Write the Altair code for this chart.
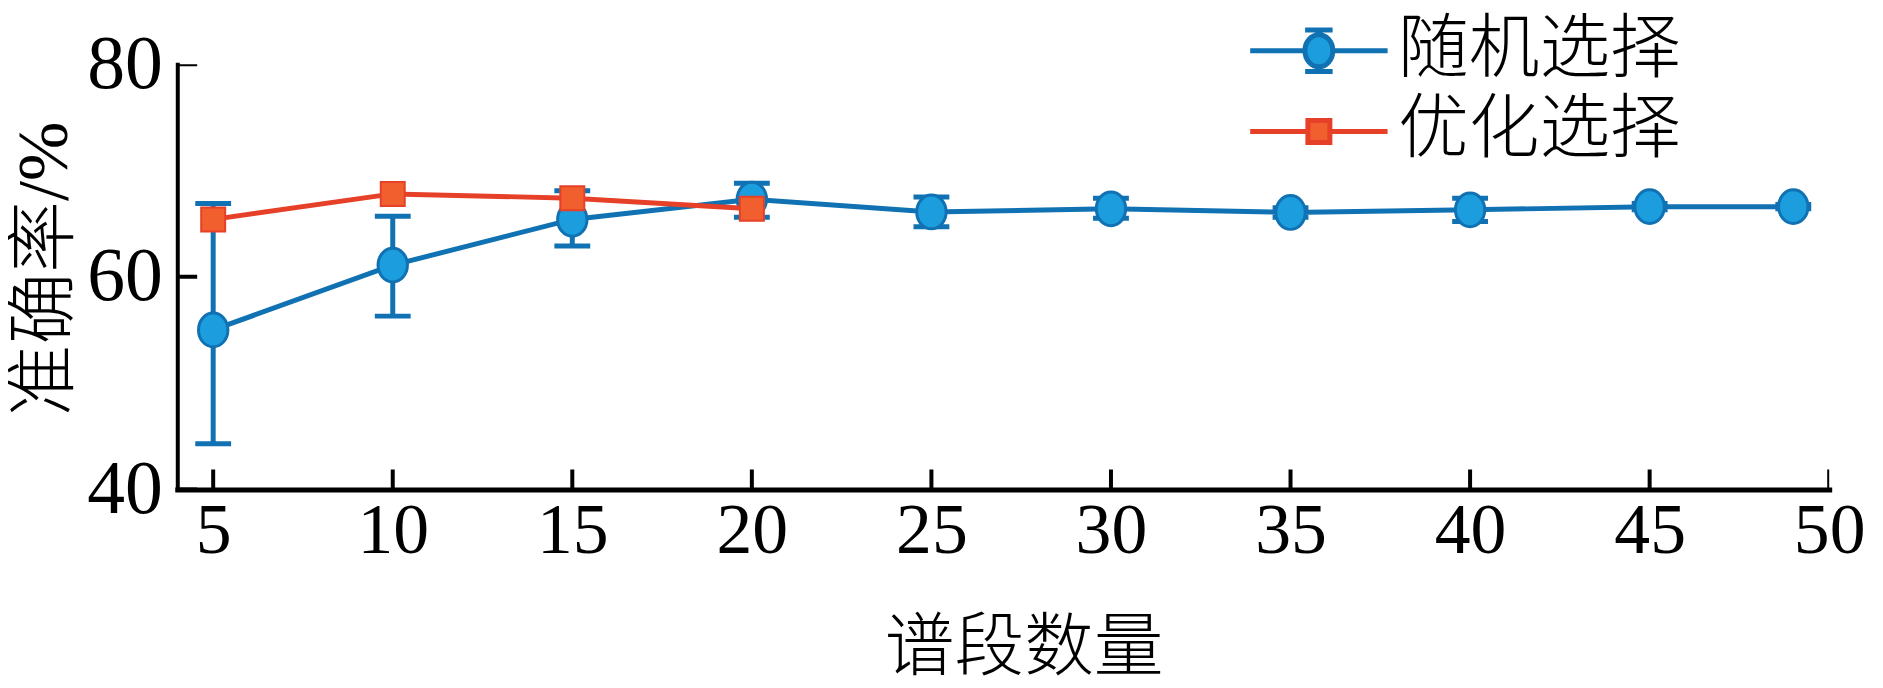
import altair as alt
import pandas as pd

# ---------------- data ----------------
series_names = ["随机选择", "优化选择"]

band_rand = [5, 10, 15, 20, 25, 30, 35, 40, 45, 49]
acc_rand = [55.0, 61.1, 65.4, 67.3, 66.1, 66.4, 66.05, 66.3, 66.6, 66.6]
acc_rand_lo = [44.3, 56.3, 62.9, 65.6, 64.7, 65.5, 65.6, 65.2, 66.3, 66.4]
acc_rand_hi = [66.9, 65.7, 68.1, 68.8, 67.5, 67.4, 66.5, 67.4, 66.9, 66.8]

band_opt = [5, 10, 15, 20]
acc_opt = [65.4, 67.8, 67.4, 66.4]

x_ticks = [5, 10, 15, 20, 25, 30, 35, 40, 45, 50]
y_ticks = [40, 60, 80]

# ---------------- styles ----------------
BLUE_LINE = "#1071b3"
BLUE_FILL = "#1c9ddd"
RED_LINE = "#e64028"
RED_FILL = "#f05f2d"
SERIF = "Liberation Serif"
CJK = "Noto Sans CJK SC"

df_r = pd.DataFrame({"band": band_rand, "acc": acc_rand,
                     "lo": acc_rand_lo, "hi": acc_rand_hi})
df_o = pd.DataFrame({"band": band_opt, "acc": acc_opt})
df_leg = pd.DataFrame({"series": series_names})
df_xt = pd.DataFrame({"band": x_ticks})
df_yt = pd.DataFrame({"acc": y_ticks})

xs = alt.Scale(domain=[4, 50], nice=False, zero=False)
ys = alt.Scale(domain=[40, 80], nice=False, zero=False)

x_axis = alt.Axis(values=x_ticks, ticks=False, grid=False, domainColor="black",
                  domainWidth=5, domainCap="square", labelFont=SERIF,
                  labelFontSize=72, labelColor="black", labelPadding=6,
                  labelFlush=False, labelOverlap=False, format="d",
                  title="谱段数量", titleFont=CJK, titleFontSize=70,
                  titleFontWeight=300, titleColor="black",
                  titleX=850, titleY=160, titleBaseline="middle",
                  titleAlign="center")
y_axis = alt.Axis(values=y_ticks, ticks=False, grid=False, domainColor="black",
                  domainWidth=4, domainCap="square", labelFont=SERIF,
                  labelFontSize=76, labelColor="black", labelPadding=15,
                  labelOverlap=False, format="d",
                  title="准确率/%", titleFont=f"{SERIF}, {CJK}",
                  titleFontSize=72, titleFontWeight=300, titleColor="black",
                  titleX=-133, titleY=205, titleAngle=270,
                  titleBaseline="middle", titleAlign="center")


def X(field="band"):
    return alt.X(f"{field}:Q", scale=xs, axis=x_axis, title="谱段数量")


def Y(field="acc"):
    return alt.Y(f"{field}:Q", scale=ys, axis=y_axis, title="准确率/%")


ellipse = "M-0.87,0A0.87,1 0 1,0 0.87,0A0.87,1 0 1,0 -0.87,0Z"

# legend symbols (unit = 23px)
leg_rand = ("M-3,0H-0.61M0.61,0H3"
            "M-0.61,0A0.61,0.7 0 1,0 0.61,0A0.61,0.7 0 1,0 -0.61,0Z"
            "M-0.6,-0.91H0.6M0,-0.91V-0.7M-0.6,0.91H0.6M0,0.91V0.7")
leg_opt = ("M-3,0H-0.48M0.48,0H3"
           "M-0.48,-0.48H0.48V0.48H-0.48Z")

line_r = alt.Chart(df_r).mark_line(color=BLUE_LINE, strokeWidth=5).encode(x=X(), y=Y())
stem_r = alt.Chart(df_r).mark_rule(color=BLUE_LINE, strokeWidth=5).encode(
    x=X(), y=Y("lo"), y2="hi:Q")
cap_lo = alt.Chart(df_r).mark_tick(orient="horizontal", size=36, thickness=5,
                                   color=BLUE_LINE, opacity=1).encode(
    x=X(), y=Y("lo"))
cap_hi = alt.Chart(df_r).mark_tick(orient="horizontal", size=36, thickness=5,
                                   color=BLUE_LINE, opacity=1).encode(
    x=X(), y=Y("hi"))
pts_r = alt.Chart(df_r).mark_point(shape=ellipse, size=1150, filled=True,
                                   fill=BLUE_FILL, stroke=BLUE_LINE,
                                   strokeWidth=3, opacity=1).encode(
    x=X(), y=Y())
line_o = alt.Chart(df_o).mark_line(color=RED_LINE, strokeWidth=5).encode(
    x=X(), y=Y())
pts_o = alt.Chart(df_o).mark_point(shape="square", size=580, filled=True,
                                   fill=RED_FILL, stroke=RED_LINE,
                                   strokeWidth=2, opacity=1).encode(
    x=X(), y=Y())

xt = alt.Chart(df_xt).mark_tick(orient="vertical", size=40, thickness=4,
                                color="black", opacity=1, clip=True).encode(
    x=X(), y=alt.value(427))
yt = alt.Chart(df_yt).mark_tick(orient="horizontal", size=40, thickness=4,
                                color="black", opacity=1, clip=True).encode(
    x=alt.value(0), y=Y())

leg = alt.Legend(title=None, orient="none", legendX=1111, legendY=-49,
                 labelFont=CJK, labelFontSize=71, labelFontWeight=300,
                 labelColor="black", labelOffset=44, symbolSize=2116,
                 symbolStrokeWidth=5, rowPadding=9, padding=0, labelLimit=0)
legend_layer = alt.Chart(df_leg).transform_filter("false").mark_point(
    filled=True, opacity=1).encode(
    shape=alt.Shape("series:N", scale=alt.Scale(domain=series_names,
                                                range=[leg_rand, leg_opt]),
                    legend=leg),
    fill=alt.Fill("series:N", scale=alt.Scale(domain=series_names,
                                              range=[BLUE_FILL, RED_FILL]),
                  legend=leg),
    stroke=alt.Stroke("series:N", scale=alt.Scale(domain=series_names,
                                                  range=[BLUE_LINE, RED_LINE]),
                      legend=leg),
)

chart = alt.layer(
    line_r, stem_r, cap_lo, cap_hi, pts_r, line_o, pts_o, xt, yt, legend_layer
).properties(
    width=1659, height=427,
    padding={"left": 170, "top": 55, "right": 46, "bottom": 196},
    autosize=alt.AutoSizeParams(type="none"),
).configure_view(stroke=None)

chart.save("out.html", embed_options={"renderer": "svg", "actions": False})
